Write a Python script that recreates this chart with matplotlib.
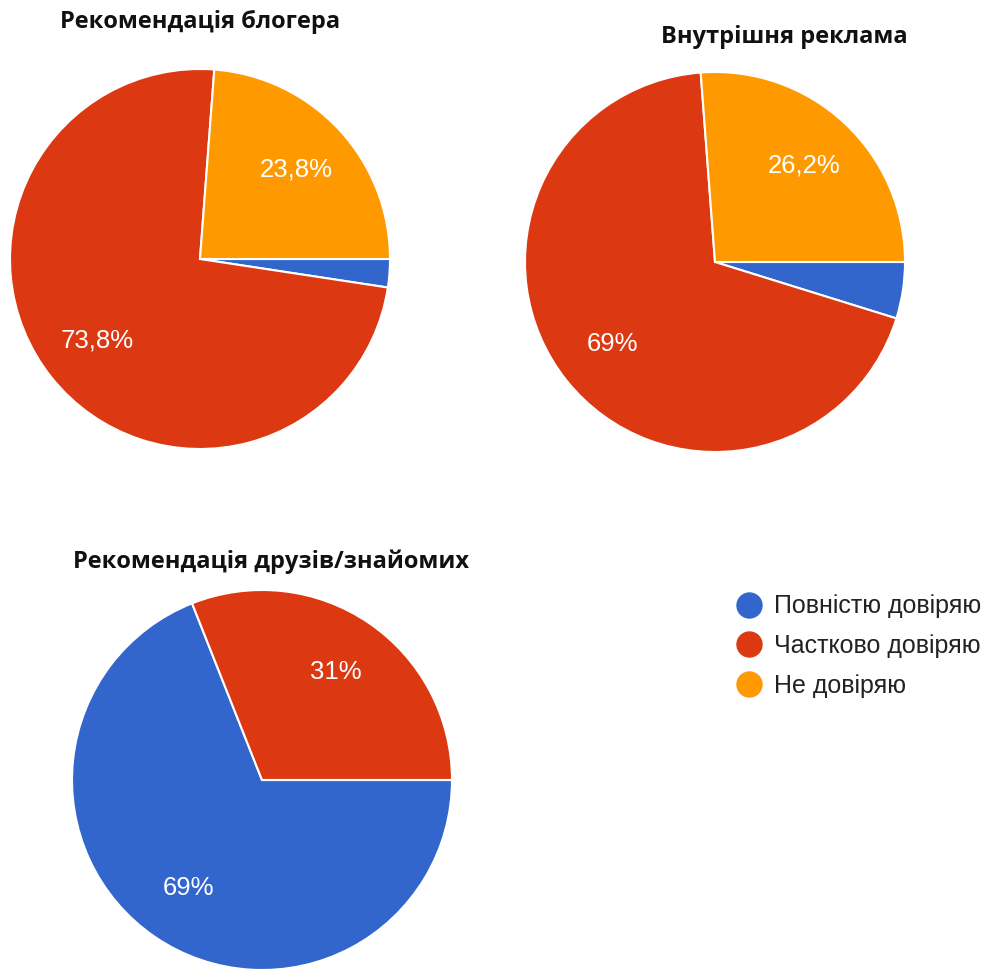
import matplotlib.pyplot as plt
from matplotlib.lines import Line2D

# categories and colours
categories = ["Повністю довіряю", "Частково довіряю", "Не довіряю"]
colors = ["#3366CC", "#DC3912", "#FF9900"]

# values per chart (percent), order as in legend
titles = ["Рекомендація блогера", "Внутрішня реклама", "Рекомендація друзів/знайомих"]
blogger = [2.4, 73.8, 23.8]
internal_ads = [4.8, 69.0, 26.2]
friends = [69.0, 31.0, 0.0]

W, H = 986, 969


def fmt_pct(pct):
    if pct < 5:
        return ""
    s = f"{pct:.1f}"
    if s.endswith(".0"):
        s = s[:-2]
    return s.replace(".", ",") + "%"


fig = plt.figure(figsize=(W / 100, H / 100), dpi=100)
ax = fig.add_axes([0, 0, 1, 1])

# (center x, center y) in image pixels, radius in pixels
pies = [
    (blogger, (200, 259), 190),
    (internal_ads, (715, 262), 190),
    (friends, (262, 780), 190),
]

for vals, (cx, cy), r in pies:
    ax.pie(vals, colors=colors, center=(cx, H - cy), radius=r,
           startangle=0, counterclock=False, autopct=fmt_pct, pctdistance=0.69,
           wedgeprops=dict(edgecolor="white", linewidth=1.5),
           textprops=dict(color="white", fontsize=18.5, family="Liberation Sans"))

title_pos = [(200, 22), (784, 37), (271, 562)]
for t, (tx, ty) in zip(titles, title_pos):
    ax.text(tx, H - ty, t, ha="center", va="center", fontsize=17,
            fontweight="bold", family="Open Sans", color="#111111")

ax.set_xlim(0, W)
ax.set_ylim(0, H)
ax.set_aspect("equal")
ax.axis("off")

handles = [Line2D([], [], marker="o", linestyle="", markersize=18, color=c) for c in colors]
fig.legend(handles, categories, loc="upper left", bbox_to_anchor=(711 / W, 1 - 572 / H),
           frameon=False, handletextpad=0.4, labelspacing=0.62, handlelength=1.2,
           prop=dict(family="Liberation Sans", size=18), labelcolor="#222222")

fig.savefig("out.png", dpi=100)
